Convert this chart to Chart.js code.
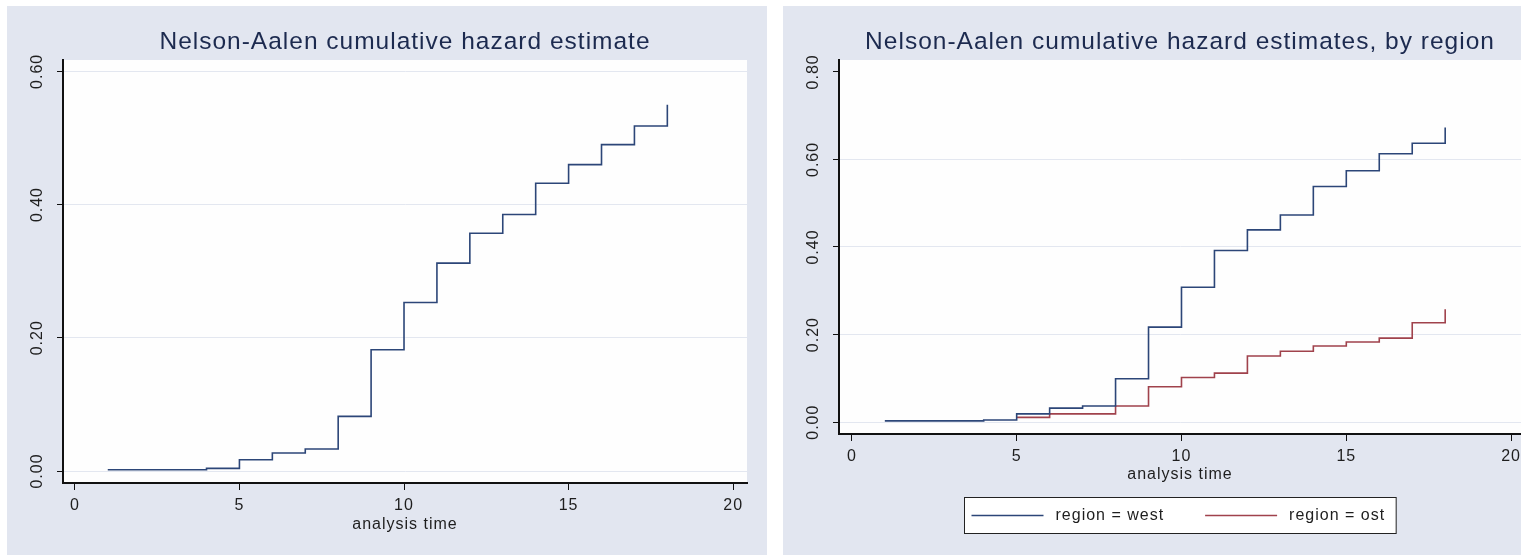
<!DOCTYPE html>
<html>
<head>
<meta charset="utf-8">
<script src="https://cdn.jsdelivr.net/npm/chart.js@4"></script>
<style>
  html, body { margin: 0; padding: 0; background: #fff; }
  body { width: 1521px; height: 555px; position: relative; overflow: hidden; }
  .panel { position: absolute; top: 6px; height: 549px; background: #e2e6f0; }
  #p1 { left: 7px; width: 760px; }
  #p2 { left: 783px; width: 738px; }
  canvas { display: block; }
</style>
</head>
<body>
<div class="panel" id="p1"><canvas id="c1" width="760" height="549"></canvas></div>
<div class="panel" id="p2"><canvas id="c2" width="738" height="549"></canvas></div>
<script>
// analysis time at each step, and the cumulative hazard
const timeAll = [1, 4, 5, 6, 7, 8, 9, 10, 11, 12, 13, 14, 15, 16, 17, 18];
const hazardAll = [0.002, 0.004, 0.017, 0.027, 0.033, 0.082, 0.182, 0.253, 0.312, 0.357, 0.385, 0.432, 0.460, 0.490, 0.518, 0.550];

const timeWest = [1, 4, 5, 6, 7, 8, 9, 10, 11, 12, 13, 14, 15, 16, 17, 18];
const hazardWest = [0.003, 0.005, 0.019, 0.032, 0.037, 0.099, 0.217, 0.308, 0.392, 0.439, 0.473, 0.538, 0.574, 0.613, 0.637, 0.673];

const timeOst = [5, 6, 8, 9, 10, 11, 12, 13, 14, 15, 16, 17, 18];
const hazardOst = [0.011, 0.019, 0.037, 0.081, 0.102, 0.112, 0.151, 0.162, 0.174, 0.183, 0.192, 0.227, 0.258];

const xTicks = [0, 5, 10, 15, 20];
const yTicksLeft = [0, 0.2, 0.4, 0.6];
const yTicksRight = [0, 0.2, 0.4, 0.6, 0.8];

const navy = '#2c4678';
const maroon = '#a0424c';
const gridColor = '#e3e7f0';
const font = '"Liberation Sans", Arial, Helvetica, sans-serif';

Chart.defaults.font.family = font;
Chart.defaults.font.size = 16;
Chart.defaults.color = '#1e1e1e';

const pts = (xs, ys) => xs.map((t, i) => ({x: t, y: ys[i]}));

// stata look: slightly spaced letters, white plot region
const stataLook = {
  id: 'stataLook',
  beforeUpdate(chart) { chart.ctx.letterSpacing = '1px'; },
  beforeDraw(chart) {
    const {ctx, chartArea: a} = chart;
    ctx.letterSpacing = '1px';
    ctx.save();
    ctx.fillStyle = '#fefefe';
    ctx.fillRect(a.left, a.top, a.right - a.left, a.bottom - a.top);
    ctx.restore();
  }
};

// boxed legend under the axis title
const boxLegend = {
  id: 'boxLegend',
  afterDraw(chart) {
    const ctx = chart.ctx;
    const sets = chart.data.datasets;
    const sample = 72, gap = 12, between = 41, padL = 7, padR = 11, h = 36;
    ctx.save();
    ctx.font = '16px ' + font;
    ctx.letterSpacing = '1px';
    const widths = sets.map(d => ctx.measureText(d.label).width);
    let total = padL + padR + between * (sets.length - 1);
    widths.forEach(w => { total += sample + gap + w; });
    const a = chart.chartArea;
    const left = Math.round((a.left + a.right) / 2 - total / 2) + 0.5;
    const top = Math.round(chart.scales.x.bottom + 3) + 0.5;
    ctx.fillStyle = '#fff';
    ctx.fillRect(left, top, total, h);
    ctx.strokeStyle = '#222';
    ctx.lineWidth = 1;
    ctx.strokeRect(left, top, total, h);
    const cy = top + h / 2;
    let x = left + padL;
    sets.forEach((d, i) => {
      ctx.strokeStyle = d.borderColor;
      ctx.lineWidth = 1.5;
      ctx.beginPath();
      ctx.moveTo(x, cy);
      ctx.lineTo(x + sample, cy);
      ctx.stroke();
      ctx.fillStyle = '#1e1e1e';
      ctx.textAlign = 'left';
      ctx.textBaseline = 'middle';
      ctx.fillText(d.label, x + sample + gap, cy);
      x += sample + gap + widths[i] + between;
    });
    ctx.restore();
  }
};

function makeOptions(title, yMin, yMax, yTicks, xMin, xMax, xHeight, titlePad, padRight, padBottom) {
  return {
    responsive: false,
    animation: false,
    layout: { autoPadding: false, padding: { left: 0, right: padRight, top: 0, bottom: padBottom } },
    plugins: {
      legend: { display: false },
      tooltip: { enabled: false },
      title: {
        display: true, text: title, fullSize: false, color: '#1c2a4f',
        font: { size: 24.5, weight: 'normal' },
        padding: { top: 21.3, bottom: 3.3 }
      }
    },
    scales: {
      x: {
        type: 'linear', min: xMin, max: xMax,
        afterBuildTicks: s => { s.ticks = xTicks.map(v => ({value: v})); },
        afterFit: s => { s.height = xHeight; s.paddingLeft = 0; s.paddingRight = 0; },
        ticks: { padding: 6, minRotation: 0, maxRotation: 0, autoSkip: false, color: '#1e1e1e' },
        grid: { drawOnChartArea: false, tickColor: '#111', tickLength: 7, lineWidth: 1 },
        border: { display: true, color: '#111', width: 2 },
        title: { display: true, text: 'analysis time', color: '#1e1e1e', padding: { top: 0, bottom: titlePad } }
      },
      y: {
        type: 'linear', min: yMin, max: yMax,
        afterBuildTicks: s => { s.ticks = yTicks.map(v => ({value: v})); },
        afterFit: s => { s.width = 56; s.paddingTop = 0; s.paddingBottom = 0; },
        ticks: {
          minRotation: 90, maxRotation: 90, crossAlign: 'center', padding: 1.5, color: '#1e1e1e',
          callback: v => Number(v).toFixed(2)
        },
        grid: {
          color: c => (c.tick && c.tick.value > 0.7) ? 'rgba(0,0,0,0)' : gridColor,
          tickColor: '#111', tickLength: 6, lineWidth: 1
        },
        border: { display: true, color: '#111', width: 2 }
      }
    }
  };
}

new Chart(document.getElementById('c1'), {
  type: 'line',
  data: {
    datasets: [{
      label: 'cumulative hazard',
      data: pts(timeAll, hazardAll),
      stepped: 'before', borderColor: navy, borderWidth: 1.6, pointRadius: 0, fill: false
    }]
  },
  options: makeOptions('Nelson-Aalen cumulative hazard estimate', -0.018, 0.617, yTicksLeft, -0.36, 20.42, 72, 20.4, 20, 0),
  plugins: [stataLook]
});

new Chart(document.getElementById('c2'), {
  type: 'line',
  data: {
    datasets: [{
      label: 'region = west',
      data: pts(timeWest, hazardWest),
      stepped: 'before', borderColor: navy, borderWidth: 1.6, pointRadius: 0, fill: false
    }, {
      label: 'region = ost',
      data: pts(timeOst, hazardOst),
      stepped: 'before', borderColor: maroon, borderWidth: 1.6, pointRadius: 0, fill: false
    }]
  },
  options: makeOptions('Nelson-Aalen cumulative hazard estimates, by region', -0.027, 0.827, yTicksRight, -0.39, 20.3, 60, 9.4, 0, 61),
  plugins: [stataLook, boxLegend]
});
</script>
</body>
</html>
